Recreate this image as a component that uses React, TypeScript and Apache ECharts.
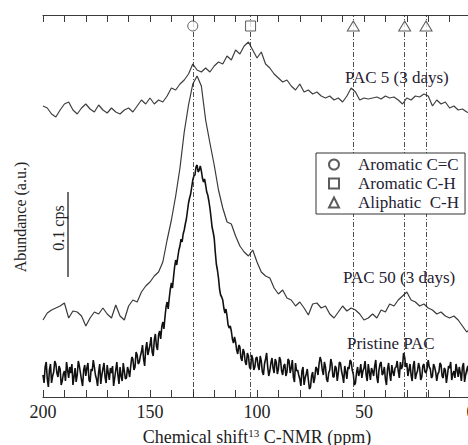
import React, { useEffect, useRef } from "react";
import * as echarts from "echarts";

// Chemical shift grids (ppm), descending from 200 to 0
const ppmStep2: number[] = Array.from({ length: 101 }, (_, i) => 200 - 2 * i);
const ppmStepHalf: number[] = Array.from({ length: 401 }, (_, i) => 200 - 0.5 * i);

// Abundance (a.u.); 85 a.u. = 0.1 cps
const pac5: number[] = [
  291, 289, 283, 280, 287, 293, 295, 287, 283, 289,
  293, 288, 285, 292, 287, 284, 289, 285, 283, 287,
  289, 285, 291, 297, 293, 299, 293, 297, 295, 301,
  309, 307, 313, 317, 323, 333, 327, 325, 329, 325,
  331, 335, 333, 341, 337, 347, 343, 351, 355, 347,
  339, 345, 333, 329, 323, 319, 315, 317, 311, 307,
  313, 305, 307, 303, 305, 301, 299, 301, 297, 299,
  295, 301, 309, 305, 297, 299, 298, 299, 300, 298,
  301, 299, 300, 297, 293, 299, 297, 301, 300, 303,
  301, 291, 297, 293, 295, 289, 291, 287, 288, 285,
  284,
];

const pac50: number[] = [
  77, 84, 87, 89, 91, 94, 79, 86, 85, 81,
  71, 79, 85, 83, 89, 83, 79, 92, 81, 77,
  91, 97, 95, 105, 111, 115, 121, 125, 135, 157,
  177, 201, 229, 265, 292, 313, 321, 311, 277, 254,
  232, 207, 189, 175, 173, 161, 151, 145, 141, 147,
  135, 125, 121, 119, 109, 103, 107, 99, 97, 91,
  95, 89, 82, 93, 94, 89, 91, 83, 79, 85,
  91, 86, 89, 87, 83, 77, 79, 83, 79, 87,
  85, 93, 91, 97, 101, 105, 97, 95, 91, 93,
  89, 87, 83, 85, 81, 79, 81, 77, 71, 65,
  69,
];

// Pristine PAC, every 0.5 ppm
const pristine: number[] = [
  22, 14, 30, 35, 18, 10, 27, 33, 14, 21,
  25, 36, 33, 24, 20, 31, 28, 12, 16, 23,
  26, 16, 35, 27, 19, 30, 24, 33, 12, 20,
  29, 15, 22, 36, 31, 24, 17, 11, 27, 32,
  21, 29, 34, 17, 15, 28, 26, 37, 30, 22,
  18, 11, 25, 33, 13, 22, 28, 34, 20, 14,
  32, 24, 17, 29, 24, 31, 11, 19, 27, 35,
  22, 13, 30, 21, 16, 34, 26, 18, 19, 30,
  26, 20, 31, 40, 38, 27, 30, 45, 42, 33,
  35, 41, 45, 52, 38, 31, 48, 55, 42, 47,
  52, 60, 45, 41, 57, 63, 51, 47, 62, 66,
  58, 70, 75, 68, 80, 90, 95, 88, 99, 108,
  114, 109, 120, 130, 137, 132, 140, 147, 151, 158,
  155, 163, 167, 173, 178, 186, 194, 199, 203, 210,
  217, 221, 222, 230, 232, 225, 227, 231, 226, 219,
  215, 218, 212, 205, 202, 196, 189, 180, 170, 165,
  159, 145, 133, 127, 119, 108, 102, 100, 97, 89,
  84, 88, 81, 72, 69, 71, 66, 58, 54, 60,
  55, 47, 43, 52, 50, 39, 36, 48, 45, 35,
  32, 44, 41, 30, 28, 42, 38, 27, 30, 39,
  40, 31, 27, 41, 36, 25, 22, 33, 38, 44,
  30, 21, 26, 34, 39, 29, 24, 38, 35, 23,
  28, 40, 37, 26, 22, 31, 33, 21, 25, 38,
  36, 24, 29, 37, 20, 15, 34, 26, 27, 22,
  18, 11, 26, 30, 12, 19, 23, 28, 17, 8,
  10, 21, 25, 14, 19, 30, 28, 22, 33, 40,
  36, 27, 22, 35, 30, 18, 15, 24, 27, 38,
  33, 20, 20, 31, 29, 16, 24, 35, 34, 26,
  21, 14, 31, 25, 18, 30, 28, 37, 35, 27,
  23, 12, 14, 24, 30, 21, 25, 33, 19, 26,
  29, 36, 22, 16, 33, 25, 17, 29, 26, 21,
  31, 37, 20, 14, 27, 33, 35, 22, 24, 30,
  18, 12, 28, 34, 23, 16, 32, 25, 21, 29,
  30, 36, 26, 19, 35, 28, 31, 44, 40, 30,
  34, 21, 27, 33, 22, 16, 31, 36, 18, 23,
  26, 34, 29, 17, 20, 31, 33, 25, 24, 29,
  37, 30, 28, 19, 21, 33, 30, 25, 16, 23,
  25, 34, 32, 21, 19, 29, 27, 14, 22, 31,
  29, 35, 17, 23, 26, 19, 33, 27, 20, 30,
  24, 16, 30, 34, 15, 22, 27, 31, 21, 14,
  25,
];

const xTickLabels: number[] = [200, 150, 100, 50, 0];

// Assigned peak positions (ppm)
const aromaticCC: number[] = [130];
const aromaticCH: number[] = [103];
const aliphaticCH: number[] = [55, 31, 21];
const markerLevel = 371;

const FONT = "Liberation Serif";
const TEXT = "#1f2233";
const AXIS = "#3a3a3a";

export default function App() {
  const ref = useRef<HTMLDivElement>(null);

  useEffect(() => {
    if (!ref.current) return;
    const chart = echarts.init(ref.current, null, { renderer: "svg" });

    const pair = (xs: number[], ys: number[]) => xs.map((x, i) => [x, ys[i]]);
    const markerSeries = (name: string, symbol: string, size: any, xs: number[]) => ({
      name,
      type: "scatter",
      symbol,
      symbolSize: size,
      z: 5,
      silent: true,
      itemStyle: { color: "#ffffff", borderColor: "#333333", borderWidth: 1 },
      data: xs.map((p) => [p, markerLevel]),
    });

    const baseX = {
      type: "value",
      min: 0,
      max: 200,
      interval: 10,
      inverse: true,
      splitLine: { show: false },
      axisLine: { show: true, lineStyle: { color: AXIS, width: 1.2 } },
      axisTick: { show: true, inside: true, length: 7, lineStyle: { color: AXIS, width: 1 } },
    };

    chart.setOption({
      animation: false,
      backgroundColor: "#ffffff",
      grid: { left: 43, top: 15, width: 428, height: 382, outerBoundsMode: "none" },
      xAxis: [
        {
          ...baseX,
          position: "bottom",
          axisLabel: {
            show: true,
            margin: 6,
            fontSize: 18,
            fontFamily: FONT,
            color: "#222",
            showMinLabel: true,
            showMaxLabel: true,
            formatter: (v: number) => (xTickLabels.includes(v) ? String(v) : ""),
          },
          name: "Chemical shift{sup|13} C-NMR (ppm)",
          nameLocation: "middle",
          nameGap: 30,
          nameTextStyle: {
            fontSize: 18,
            fontFamily: FONT,
            color: "#222",
            rich: {
              sup: { fontSize: 11, fontFamily: FONT, color: "#222", verticalAlign: "top", padding: [0, 0, 8, 0] },
            },
          },
        },
        {
          ...baseX,
          position: "top",
          axisLabel: { show: false },
        },
      ],
      yAxis: {
        type: "value",
        min: 0,
        max: 382,
        axisLine: { show: true, lineStyle: { color: AXIS, width: 1.2 } },
        axisTick: { show: false },
        axisLabel: { show: false },
        splitLine: { show: false },
      },
      legend: {
        data: ["Aromatic C=C", "Aromatic C-H", "Aliphatic  C-H"],
        orient: "vertical",
        left: 316,
        top: 153,
        z: 10,
        selectedMode: false,
        backgroundColor: "#ffffff",
        borderColor: "#333",
        borderWidth: 1,
        padding: [3, 6, 3, 12],
        itemGap: 2,
        itemWidth: 10,
        itemHeight: 10,
        textStyle: { fontSize: 17, fontFamily: FONT, color: TEXT, padding: [0, 0, 0, 14] },
      },
      series: [
        {
          name: "PAC 5 (3 days)",
          type: "line",
          showSymbol: false,
          silent: true,
          lineStyle: { color: "#404040", width: 1.2 },
          data: pair(ppmStep2, pac5),
          z: 2,
        },
        {
          name: "PAC 50 (3 days)",
          type: "line",
          showSymbol: false,
          silent: true,
          lineStyle: { color: "#3a3a3a", width: 1.2 },
          data: pair(ppmStep2, pac50),
          z: 2,
        },
        {
          name: "Pristine PAC",
          type: "line",
          showSymbol: false,
          silent: true,
          lineStyle: { color: "#111111", width: 1.6 },
          data: pair(ppmStepHalf, pristine),
          z: 2,
          markLine: {
            silent: true,
            symbol: ["none", "none"],
            label: { show: false },
            lineStyle: { color: "#222", width: 0.8, type: [5, 2, 1, 2] },
            data: [...aromaticCC, ...aromaticCH, ...aliphaticCH].map((p) => ({ xAxis: p })),
          },
        },
        markerSeries("Aromatic C=C", "circle", 10, aromaticCC),
        markerSeries("Aromatic C-H", "rect", 10, aromaticCH),
        markerSeries("Aliphatic  C-H", "triangle", [12, 10], aliphaticCH),
      ],
      graphic: [
        {
          type: "text",
          x: 345,
          y: 77,
          style: { text: "PAC 5 (3 days)", fontSize: 17, fontFamily: FONT, fill: TEXT, verticalAlign: "middle" },
        },
        {
          type: "text",
          x: 343,
          y: 277,
          style: { text: "PAC 50 (3 days)", fontSize: 17, fontFamily: FONT, fill: TEXT, verticalAlign: "middle" },
        },
        {
          type: "text",
          x: 347,
          y: 343,
          style: { text: "Pristine PAC", fontSize: 17, fontFamily: FONT, fill: TEXT, verticalAlign: "middle" },
        },
        {
          type: "text",
          x: 20,
          y: 217,
          rotation: Math.PI / 2,
          style: { text: "Abundance (a.u.)", fontSize: 16, fontFamily: FONT, fill: "#222", align: "center", verticalAlign: "middle" },
        },
        {
          type: "line",
          shape: { x1: 68, y1: 192, x2: 68, y2: 277 },
          style: { stroke: "#222", lineWidth: 1.3 },
        },
        {
          type: "text",
          x: 58,
          y: 228,
          rotation: Math.PI / 2,
          style: { text: "0.1 cps", fontSize: 16, fontFamily: FONT, fill: "#222", align: "center", verticalAlign: "middle" },
        },
      ],
    });

    return () => chart.dispose();
  }, []);

  return (
    <div
      ref={ref}
      style={{ position: "fixed", left: 0, top: 0, width: 468, height: 445, background: "#fff" }}
    />
  );
}
